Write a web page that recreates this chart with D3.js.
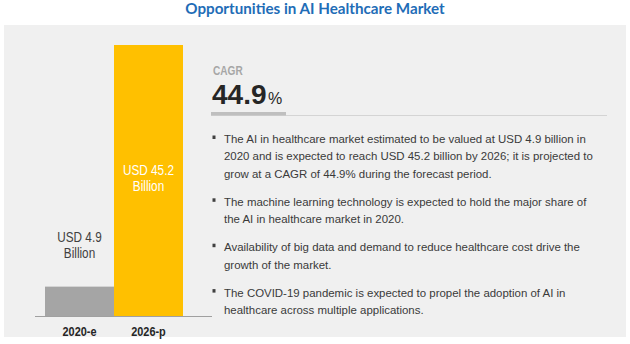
<!DOCTYPE html>
<html>
<head>
<meta charset="utf-8">
<script src="https://cdn.jsdelivr.net/npm/d3@7"></script>
<style>
  html, body { margin: 0; padding: 0; background: #ffffff; }
  svg { display: block; }
</style>
</head>
<body>
<svg id="chart" width="630" height="344"></svg>
<script>
// Market size by year (USD billion)
const categories = ["2020-e", "2026-p"];
const values = [4.9, 45.2];
const valueLabels = [["USD 4.9", "Billion"], ["USD 45.2", "Billion"]];
const barColors = ["#a5a5a5", "#ffc000"];

const titleText = "Opportunities in AI Healthcare Market";
const cagrLabel = "CAGR";
const cagrValue = "44.9";
const cagrUnit = "%";

// Key points, one array of wrapped lines per bullet
const bullets = [
  ["The AI in healthcare market estimated to be valued at USD 4.9 billion in",
   "2020 and is expected to reach USD 45.2 billion by 2026; it is projected to",
   "grow at a CAGR of 44.9% during the forecast period."],
  ["The machine learning technology is expected to hold the major share of",
   "the AI in healthcare market in 2020."],
  ["Availability of big data and demand to reduce healthcare cost drive the",
   "growth of the market."],
  ["The COVID-19 pandemic is expected to propel the adoption of AI in",
   "healthcare across multiple applications."]
];

const svg = d3.select("#chart");
const sans = "'Liberation Sans', Arial, sans-serif";
const narrowScale = "scale(0.84,1)";   // condensed look for the chart labels

// light grey panel behind the content
svg.append("rect")
  .attr("x", 4).attr("y", 25)
  .attr("width", 622).attr("height", 312)
  .attr("fill", "#f0f0f0");

// title
svg.append("text")
  .attr("x", 315).attr("y", 13.5)
  .attr("text-anchor", "middle")
  .attr("font-family", "Lato, 'Open Sans', sans-serif")
  .attr("font-weight", 700)
  .attr("font-size", 15.2)
  .attr("fill", "#1f6db7")
  .text(titleText);

// ---- bar chart ----
const baseY = 316;

const x = d3.scaleBand()
  .domain(categories)
  .range([45, 183])
  .padding(0);

const y = d3.scaleLinear()
  .domain([0, 45.2])
  .range([baseY, 45]);

svg.append("g")
  .selectAll("rect")
  .data(values)
  .join("rect")
  .attr("x", (d, i) => x(categories[i]))
  .attr("y", d => y(d))
  .attr("width", x.bandwidth())
  .attr("height", d => baseY - y(d))
  .attr("fill", (d, i) => barColors[i]);

// baseline
svg.append("line")
  .attr("x1", 35).attr("x2", 212)
  .attr("y1", baseY + 0.5).attr("y2", baseY + 0.5)
  .attr("stroke", "#a0a0a0")
  .attr("stroke-width", 1.2);

// category axis
const xAxis = svg.append("g")
  .attr("transform", `translate(0,${baseY})`)
  .call(d3.axisBottom(x).tickSize(0).tickPadding(11));
xAxis.select(".domain").remove();
xAxis.selectAll("text")
  .attr("transform", narrowScale)
  .attr("font-family", sans)
  .attr("font-weight", 700)
  .attr("font-size", 13)
  .attr("fill", "#262626");

// value labels: above the short bar, inside the tall bar
values.forEach((v, i) => {
  const cx = x(categories[i]) + x.bandwidth() / 2;
  const inside = (baseY - y(v)) > 60;
  const y0 = inside ? y(v) + 130 : y(v) - 45;
  const t = svg.append("g")
    .attr("transform", `translate(${cx},0)`)
    .append("text")
    .attr("transform", narrowScale)
    .attr("text-anchor", "middle")
    .attr("font-family", sans)
    .attr("font-size", 14)
    .attr("fill", inside ? "#ffffff" : "#404040");
  valueLabels[i].forEach((line, k) => {
    t.append("tspan")
      .attr("x", 0)
      .attr("y", y0 + k * 16)
      .text(line);
  });
});

// ---- CAGR block ----
svg.append("g")
  .attr("transform", "translate(213,74.5)")
  .append("text")
  .attr("transform", narrowScale)
  .attr("font-family", sans)
  .attr("font-weight", 700)
  .attr("font-size", 12)
  .attr("fill", "#a6a6a6")
  .text(cagrLabel);

const cagr = svg.append("text")
  .attr("x", 212).attr("y", 103.5)
  .attr("font-family", sans)
  .attr("fill", "#262626");
cagr.append("tspan")
  .attr("font-weight", 700)
  .attr("font-size", 28)
  .text(cagrValue);
cagr.append("tspan")
  .attr("font-size", 16)
  .attr("dx", 1.5)
  .text(cagrUnit);

svg.append("line")
  .attr("x1", 211).attr("x2", 607)
  .attr("y1", 115.5).attr("y2", 115.5)
  .attr("stroke", "#d4d4d4")
  .attr("stroke-width", 1);
svg.append("rect")
  .attr("x", 211).attr("y", 112)
  .attr("width", 75).attr("height", 3.5)
  .attr("fill", "#bfbfbf");

// ---- bullet list ----
const lineH = 17.4;
const paraGap = 10.6;
let cy = 139;
bullets.forEach(lines => {
  svg.append("rect")
    .attr("x", 212.5).attr("y", cy - 3.5)
    .attr("width", 3).attr("height", 3.5)
    .attr("fill", "#404040");
  lines.forEach(line => {
    svg.append("text")
      .attr("class", "bullet-line")
      .attr("x", 224).attr("y", cy + 4)
      .attr("font-family", sans)
      .attr("font-size", 11)
      .attr("fill", "#3a3a3a")
      .text(line);
    cy += lineH;
  });
  cy += paraGap;
});

// fit the bullet text so the first line spans the column
const first = svg.select(".bullet-line").node();
const w = first.getComputedTextLength();
const fs = 11 * 362 / w;
svg.selectAll(".bullet-line").attr("font-size", fs.toFixed(2));
</script>
</body>
</html>
